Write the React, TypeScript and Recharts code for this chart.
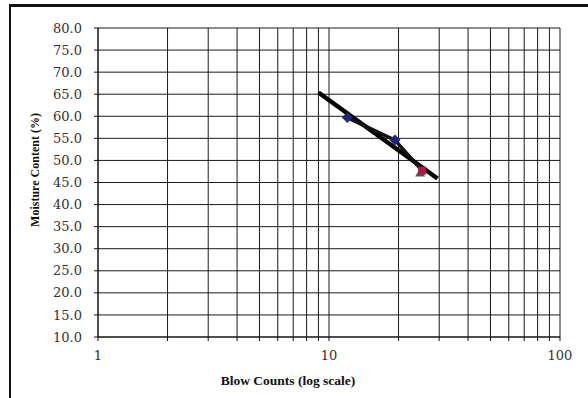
import React from 'react';
import {
  ComposedChart,
  Scatter,
  XAxis,
  YAxis,
  CartesianGrid,
} from 'recharts';

// blow counts vs moisture content (liquid limit test)
const gridCounts = [1, 2, 3, 4, 5, 6, 7, 8, 9, 10, 20, 30, 40, 50, 60, 70, 80, 90, 100];
const labelledCounts = [1, 10, 100];
const moistureTicks = [10, 15, 20, 25, 30, 35, 40, 45, 50, 55, 60, 65, 70, 75, 80];

const trialBlows = [12, 19.3];
const trialMoisture = [59.7, 54.6];
const lastBlows = [25.3];
const lastMoisture = [47.7];

const trendBlows = [9, 29.5];
const trendMoisture = [65.4, 45.9];

const trials = trialBlows.map((x, i) => ({ x, y: trialMoisture[i] }));
const last = lastBlows.map((x, i) => ({ x, y: lastMoisture[i] }));
const trend = trendBlows.map((x, i) => ({ x, y: trendMoisture[i] }));
const measured = [...trials, ...last];

const tickFont = { fontFamily: '"DejaVu Serif", serif', fontSize: 13, fill: '#333' };

const Diamond = ({ cx, cy }: any) => (
  <path d={`M${cx},${cy - 5.5}L${cx + 5.5},${cy}L${cx},${cy + 5.5}L${cx - 5.5},${cy}Z`} fill="#1d2a7a" />
);

const Square = ({ cx, cy }: any) => (
  <g>
    <path d={`M${cx - 2},${cy - 2}L${cx + 3},${cy + 6}L${cx - 7},${cy + 6}Z`} fill="#2e6b4a" />
    <rect x={cx - 4} y={cy - 4} width={8} height={8} fill="#b01346" />
  </g>
);

export default function App() {
  return (
    <div style={{ position: 'absolute', left: 0, top: 0, width: 588, height: 398, background: '#fff', overflow: 'hidden' }}>
      <div style={{ position: 'absolute', left: 9, top: 4, width: 579, height: 394, borderTop: '3px solid #111', borderLeft: '2px solid #111' }} />
      <ComposedChart
        width={588}
        height={398}
        margin={{ top: 28, right: 28, bottom: 0, left: 0 }}
      >
        <CartesianGrid stroke="#1a1a1a" strokeWidth={1} />
        <XAxis
          type="number"
          dataKey="x"
          scale="log"
          domain={[1, 100]}
          ticks={gridCounts}
          allowDataOverflow
          interval={0}
          height={61}
          tickSize={4}
          tickMargin={10}
          stroke="#111"
          tickFormatter={(v: number) => (labelledCounts.includes(v) ? String(v) : '')}
          tick={tickFont}
        />
        <YAxis
          type="number"
          dataKey="y"
          domain={[10, 80]}
          ticks={moistureTicks}
          interval={0}
          width={98}
          tickSize={4}
          tickMargin={12}
          stroke="#111"
          tickFormatter={(v: number) => v.toFixed(1)}
          tick={tickFont}
        />
        <Scatter
          data={trend}
          line={{ stroke: '#000', strokeWidth: 4.5 }}
          shape={() => null}
          isAnimationActive={false}
        />
        <Scatter
          data={measured}
          line={{ stroke: '#111', strokeWidth: 3.5 }}
          shape={() => null}
          isAnimationActive={false}
        />
        <Scatter data={last} shape={<Square />} isAnimationActive={false} />
        <Scatter data={trials} shape={<Diamond />} isAnimationActive={false} />
      </ComposedChart>
      <div
        style={{
          position: 'absolute',
          left: 288,
          top: 381,
          transform: 'translate(-50%, -50%)',
          fontFamily: '"Liberation Serif", serif',
          fontWeight: 'bold',
          fontSize: 13.5,
          color: '#111',
          whiteSpace: 'nowrap',
        }}
      >
        Blow Counts (log scale)
      </div>
      <div
        style={{
          position: 'absolute',
          left: 35,
          top: 170,
          transform: 'translate(-50%, -50%) rotate(-90deg)',
          fontFamily: '"Liberation Serif", serif',
          fontWeight: 'bold',
          fontSize: 12,
          color: '#111',
          whiteSpace: 'nowrap',
        }}
      >
        Moisture Content (%)
      </div>
    </div>
  );
}
